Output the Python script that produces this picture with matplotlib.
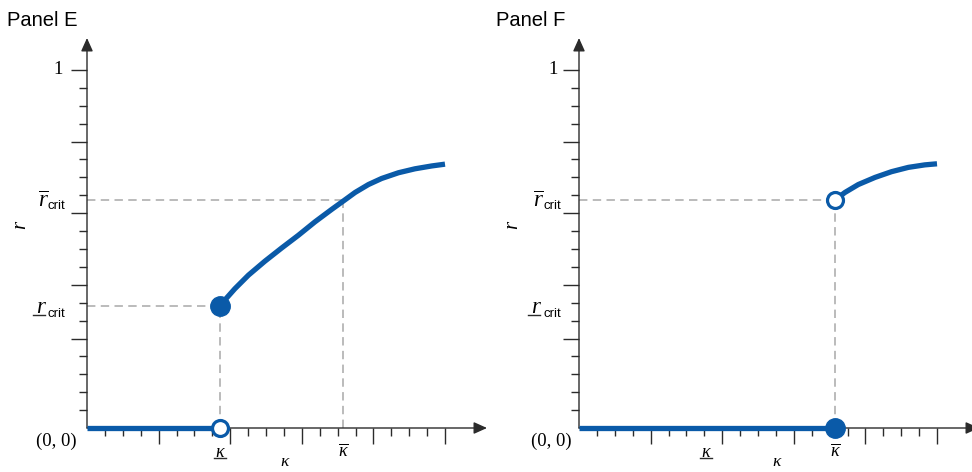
import numpy as np
import matplotlib
matplotlib.use("Agg")
import matplotlib.pyplot as plt
from matplotlib.lines import Line2D
from matplotlib import transforms as mtransforms

plt.rcParams['mathtext.fontset'] = 'custom'
plt.rcParams['mathtext.rm'] = 'Liberation Serif'
plt.rcParams['mathtext.it'] = 'Liberation Serif:italic'
plt.rcParams['mathtext.sf'] = 'Liberation Sans'

# values (axes run 0..1)
kappa_low = 0.372
kappa_low_f = 0.355
kappa_bar = 0.715
r_low = 0.342
r_bar = 0.637

curve_e_x = [0.372, 0.381, 0.413, 0.451, 0.497, 0.544, 0.590, 0.637, 0.684, 0.716,
             0.749, 0.786, 0.823, 0.870, 0.916, 0.963, 1.0]
curve_e_y = [0.342, 0.353, 0.389, 0.427, 0.466, 0.503, 0.538, 0.576, 0.611, 0.634,
             0.658, 0.680, 0.697, 0.713, 0.724, 0.732, 0.737]
curve_f_x = [0.715, 0.743, 0.780, 0.827, 0.873, 0.920, 0.966, 1.0]
curve_f_y = [0.637, 0.658, 0.680, 0.700, 0.716, 0.728, 0.735, 0.738]

x_major = [0.2, 0.4, 0.6, 0.8, 1.0]
y_major = [0.25, 0.4, 0.6, 0.8, 1.0]
minor = np.arange(0.05, 1.0001, 0.05)

blue = '#0a5aa8'
axis_col = '#2b2b2b'
dash_col = '#a8a8a8'

fig = plt.figure(figsize=(9.72, 4.72), dpi=100)
ax_e = fig.add_axes([87/972, 44/472, 400/972, 390/472])
ax_f = fig.add_axes([579/972, 44/472, 400/972, 390/472])


def off(ax, dx, dy):
    # shift by pixels (dpi is 100)
    return ax.transData + mtransforms.ScaledTranslation(dx/100, dy/100, fig.dpi_scale_trans)


def setup(ax, sh):
    ax.set_xlim(0, 400/358)
    ax.set_ylim(0, 390/358)
    for s in ax.spines.values():
        s.set_visible(False)
    arrow = dict(arrowstyle='-|>,head_length=0.8,head_width=0.36', color=axis_col,
                 lw=1.0, shrinkA=0, shrinkB=0)
    ax.annotate('', xy=(1, 0), xytext=(0, 0), xycoords='axes fraction', arrowprops=arrow)
    ax.annotate('', xy=(0, 1), xytext=(0, 0), xycoords='axes fraction', arrowprops=arrow)
    ax.set_xticks(x_major)
    ax.set_xticks(minor, minor=True)
    ax.set_yticks(y_major)
    ax.set_yticks(minor, minor=True)
    ax.tick_params(which='both', direction='out', width=1.0, color=axis_col,
                   labelbottom=False, labelleft=False)
    ax.tick_params(which='major', length=11.5)
    ax.tick_params(which='minor', length=6)

    serif = dict(fontsize=13.5, fontfamily='Liberation Serif')
    ax.text(0, 1.0, '1', transform=off(ax, -24 + sh, 0), ha='right', va='center', **serif)
    ax.text(0, 0, '(0, 0)', transform=off(ax, -10 + sh, -13), ha='right', va='center', **serif)

    # r-bar crit
    ax.text(0, r_bar, r'$\overline{r}$', transform=off(ax, -38 + sh, -7), ha='right',
            va='baseline', fontsize=16.5)
    ax.text(0, r_bar, 'crit', transform=off(ax, -39 + sh, -9), ha='left', va='baseline',
            fontsize=9.5, fontfamily='Liberation Sans')
    # r-underline crit
    ax.text(0, r_low, r'$r$', transform=off(ax, -40 + sh, -7.5), ha='right',
            va='baseline', fontsize=16.5)
    ax.text(0, r_low, 'crit', transform=off(ax, -39 + sh, -11), ha='left', va='baseline',
            fontsize=9.5, fontfamily='Liberation Sans')
    ax.add_line(Line2D([(-54 + sh)/358, (-42 + sh)/358], [r_low, r_low],
                       transform=off(ax, 0, -9.5), color=axis_col, lw=1.0, clip_on=False))

    ax.text(0.553, 0, r'$\kappa$', transform=off(ax, 0, -42), ha='center', va='bottom',
            fontsize=12.5)
    ax.text(0, 0.567, r'$r$', transform=off(ax, -67, 0), ha='center', va='center',
            fontsize=15, rotation=90)


def kappa_labels(ax, k_low):
    ax.text(k_low, 0, r'$\kappa$', transform=off(ax, 0, -24), ha='center', va='center',
            fontsize=13)
    ax.add_line(Line2D([k_low - 6/358, k_low + 6/358], [0, 0], transform=off(ax, 0, -30),
                       color=axis_col, lw=1.0, clip_on=False))
    ax.text(kappa_bar, 0, r'$\overline{\kappa}$', transform=off(ax, 0, -23), ha='center',
            va='center', fontsize=13)


dash = dict(color=dash_col, lw=1.1, ls=(0, (5.5, 3.5)), zorder=2)
thick = dict(color=blue, lw=3.8, solid_capstyle='butt', solid_joinstyle='round', zorder=4)

# Panel E
setup(ax_e, 0)
kappa_labels(ax_e, kappa_low)
ax_e.plot([0, kappa_low], [r_low, r_low], **dash)
ax_e.plot([kappa_low, kappa_low], [0, r_low], **dash)
ax_e.plot([0, kappa_bar], [r_bar, r_bar], **dash)
ax_e.plot([kappa_bar, kappa_bar], [0, r_bar], **dash)
ax_e.plot([0, kappa_low], [0, 0], clip_on=False, **thick)
ax_e.plot(curve_e_x, curve_e_y, **thick)
ax_e.plot(kappa_low, r_low, 'o', ms=14, color=blue, zorder=5, clip_on=False)
ax_e.plot(kappa_low, 0, 'o', ms=11.5, mfc='white', mec=blue, mew=2.3, zorder=5, clip_on=False)

# Panel F
setup(ax_f, 3)
kappa_labels(ax_f, kappa_low_f)
ax_f.plot([0, kappa_bar], [r_bar, r_bar], **dash)
ax_f.plot([kappa_bar, kappa_bar], [0, r_bar], **dash)
ax_f.plot([0, kappa_bar], [0, 0], clip_on=False, **thick)
ax_f.plot(curve_f_x, curve_f_y, **thick)
ax_f.plot(kappa_bar, 0, 'o', ms=14, color=blue, zorder=5, clip_on=False)
ax_f.plot(kappa_bar, r_bar, 'o', ms=11.5, mfc='white', mec=blue, mew=2.3, zorder=5, clip_on=False)

fig.text(7/972, 1 - 20/472, 'Panel E', fontsize=14.5, fontfamily='Liberation Sans', va='center')
fig.text(496/972, 1 - 20/472, 'Panel F', fontsize=14.5, fontfamily='Liberation Sans', va='center')

fig.savefig('out.png', dpi=100)
